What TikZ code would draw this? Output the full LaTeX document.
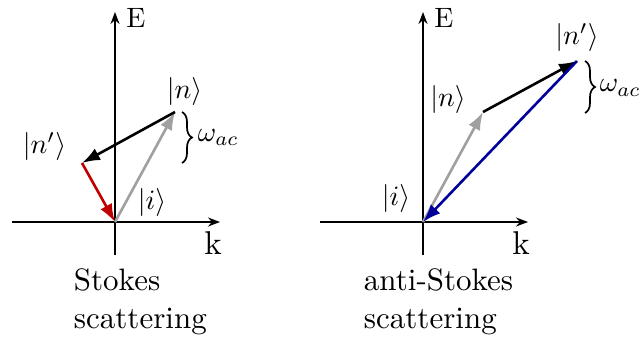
\documentclass[tikz,border=0pt]{standalone}
\usetikzlibrary{arrows.meta}
\usetikzlibrary{decorations.pathreplacing}

\definecolor{stokesred}{RGB}{192,0,0}
\definecolor{antiblue}{RGB}{0,0,155}
\definecolor{pumpgray}{RGB}{160,160,160}

\begin{document}
\begin{tikzpicture}[x=0.5pt,y=-0.5pt,
  axis/.style={line width=0.85pt,-{Stealth[length=6pt,width=4.5pt]}},
  vec/.style={line width=1.3pt,-{Latex[length=9pt,width=6.5pt]}},
  ket/.style={anchor=base,scale=1.4},
  gap/.style={line width=0.85pt,decorate,decoration={brace,amplitude=5pt}},
  caption/.style={anchor=base west,align=left,scale=1.55}]
\useasboundingbox (0,0) rectangle (642,342);
\foreach \a/\x in {L/115,R/423}
{\coordinate (O\a) at (\x,222);
 \coordinate (kl\a) at (\x-103,222);
 \coordinate (kr\a) at (\x+105,222);
 \coordinate (eb\a) at (\x,255);
 \coordinate (et\a) at (\x,12);
 \draw[axis] (kl\a) -- (kr\a);
 \draw[axis] (eb\a) -- (et\a);
 \node[anchor=base,scale=1.4] (E\a) at (\x+21,28) {E};
 \node[anchor=base,scale=1.65] (k\a) at (\x+98,254) {k};}

\coordinate (NL) at (175,112);
\coordinate (ML) at (82,163);
\draw[vec,pumpgray] (OL) -- (NL);
\draw[vec] (NL) -- (ML);
\draw[vec,stokesred] (ML) -- (OL);
\coordinate (bL) at (182,112);
\coordinate (cL) at (182,163);
\draw[gap] (bL) -- (cL);
\node[ket,anchor=base west] (wL) at (188,141) {$\omega_{ac}$};
\node[ket] (nL) at (184.5,98) {$|n\rangle$};
\node[ket] (mL) at (44.5,154) {$|n'\rangle$};
\node[ket] (iL) at (152,209) {$|i\rangle$};
\node[caption] (sL) at (63,328) {Stokes\\scattering};

\coordinate (NR) at (483,112);
\coordinate (MR) at (577,61);
\draw[vec,pumpgray] (OR) -- (NR);
\draw[vec] (NR) -- (MR);
\draw[vec,antiblue] (MR) -- (OR);
\coordinate (bR) at (585,61);
\coordinate (cR) at (585,113);
\draw[gap] (bR) -- (cR);
\node[ket,anchor=base west] (wR) at (590,92) {$\omega_{ac}$};
\node[ket] (nR) at (448,107) {$|n\rangle$};
\node[ket] (mR) at (577,45) {$|n'\rangle$};
\node[ket] (iR) at (396,205) {$|i\rangle$};
\node[caption] (sR) at (353,328) {anti-Stokes\\scattering};
\end{tikzpicture}
\end{document}
